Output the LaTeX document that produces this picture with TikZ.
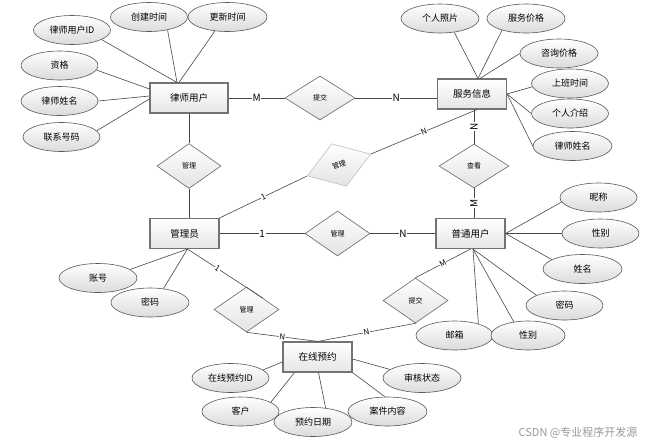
\documentclass[tikz,border=0pt]{standalone}
\usepackage{fontspec}
\setmainfont{Noto Sans CJK SC}
\usetikzlibrary{shapes.geometric,calc}
\begin{document}
\begin{tikzpicture}[x=1pt,y=-1pt,
 ent/.style={draw=black!55, line width=1.1pt, top color=white, bottom color=black!10, minimum width=69pt, minimum height=30pt, inner sep=0pt, font=\fontsize{9.5}{10}\selectfont},
 attr/.style={ellipse, draw=black!65, line width=0.6pt, top color=white, bottom color=black!14, minimum width=77pt, minimum height=29pt, inner sep=0pt, font=\fontsize{9}{10}\selectfont},
 rel/.style={diamond, draw=black!60, line width=0.6pt, top color=white, bottom color=black!11, minimum width=65pt, minimum height=45pt, inner sep=0pt, font=\fontsize{7}{8}\selectfont},
 conn/.style={draw=black!72, line width=0.6pt},
 lbl/.style={fill=white, inner sep=0.6pt, font=\fontsize{10}{11}\selectfont},
 slbl/.style={fill=white, inner sep=0.5pt, sloped, font=\fontsize{8}{9}\selectfont},
]
\fill[white] (0,0) rectangle (648,445);
\useasboundingbox (0,0) rectangle (648,445);

% entities
\node[ent, minimum width=78pt] (lu) at (189,98) {律师用户};
\node[ent] (fw) at (472,94) {服务信息};
\node[ent] (gl) at (184.5,233.5) {管理员};
\node[ent] (pt) at (470.5,233.5) {普通用户};
\node[ent] (yy) at (317.5,357) {在线预约};

% relationships
\node[rel, minimum width=70pt, minimum height=44pt] (tj1) at (320,98) {提交};
\node[rel, minimum width=64pt] (gl1) at (189,166) {管理};
\node[rel, minimum width=70pt, minimum height=44pt] (ck) at (474,166) {查看};
\node[rel] (gl2) at (337.5,233.5) {管理};
\node[rel, draw=black!25, minimum width=67pt, rotate=19] (gl3) at (339,165) {管理};
\node[rel] (gl4) at (246.5,309.5) {管理};
\node[rel] (tj2) at (415.5,300.5) {提交};

% attributes of 律师用户
\node[attr] (a1) at (72,30) {律师用户ID};
\node[attr] (a2) at (149,17) {创建时间};
\node[attr, minimum width=79pt] (a3) at (227.5,17) {更新时间};
\node[attr] (a4) at (59.5,65.5) {资格};
\node[attr] (a5) at (59.5,101) {律师姓名};
\node[attr] (a6) at (61.5,137) {联系号码};

% attributes of 服务信息
\node[attr, minimum width=78pt] (b1) at (440,18.5) {个人照片};
\node[attr, minimum width=78pt] (b2) at (526,18.5) {服务价格};
\node[attr, minimum width=78pt] (b3) at (559,53.5) {咨询价格};
\node[attr] (b4) at (570,83.5) {上班时间};
\node[attr] (b5) at (570,113.5) {个人介绍};
\node[attr, minimum width=79pt] (b6) at (572.5,146) {律师姓名};

% attributes of 管理员
\node[attr, minimum width=78pt] (c1) at (98,278) {账号};
\node[attr, minimum width=78pt] (c2) at (150,302.5) {密码};

% attributes of 普通用户
\node[attr] (d1) at (598.5,197.5) {昵称};
\node[attr] (d2) at (600.5,233.5) {性别};
\node[attr, minimum width=79pt] (d3) at (582.5,269) {姓名};
\node[attr] (d4) at (564.5,305.5) {密码};
\node[attr] (d5) at (454.5,335.5) {邮箱};
\node[attr, minimum width=74pt] (d6) at (528,335.5) {性别};

% attributes of 在线预约
\node[attr] (e1) at (230.5,378) {在线预约ID};
\node[attr] (e2) at (240.5,411.5) {客户};
\node[attr, minimum width=78pt] (e3) at (313,422) {预约日期};
\node[attr, minimum width=79pt] (e4) at (387.5,411.5) {案件内容};
\node[attr, minimum width=78pt] (e5) at (422,378) {审核状态};

\node[font=\fontsize{11}{12}\selectfont, text=black!40] (wm) at (578,433) {CSDN @专业程序开发源};

% connection points
\coordinate (lut) at ($(lu.north)+(-12,0)$);
\coordinate (fwt) at ($(fw.north)+(6,0)$);
\coordinate (glb) at ($(gl.south)+(3,0)$);
\coordinate (ptb) at ($(pt.south)+(2.5,0)$);

% attribute connectors
\draw[conn] (a1.-18) -- (lut);
\draw[conn] (a2.-35) -- (lut);
\draw[conn] (a3.-132) -- ($(lut)+(2,0)$);
\draw[conn] (a4.-7) -- ($(lu.west)+(0,-9)$);
\draw[conn] (a5.east) -- ($(lu.west)+(0,-2)$);
\draw[conn] (a6.10) -- ($(lu.west)+(0,1)$);

\draw[conn] (b1.-44) -- (fwt);
\draw[conn] (b2.-154) -- (fwt);
\draw[conn] (b3.west) -- ($(fwt)+(2,0)$);
\draw[conn] (b4.-175) -- (fw.east);
\draw[conn] (b5.west) -- (fw.east);
\draw[conn] (b6.west) -- (fw.east);

\draw[conn] (c1.15) -- (glb);
\draw[conn] (c2.46) -- (glb);

\draw[conn] (d1.-173) -- (pt.east);
\draw[conn] (d2.west) -- (pt.east);
\draw[conn] (d3.163) -- (pt.east);
\draw[conn] (d4.160) -- (ptb);
\draw[conn] (d5.26) -- (ptb);
\draw[conn] (d6.136) -- (ptb);

\draw[conn] (e1.14) -- ($(yy.west)+(0,5)$);
\draw[conn] (e2.17) -- ($(yy.south west)+(12,0)$);
\draw[conn] (e3.48) -- ($(yy.south)+(1,0)$);
\draw[conn] (e4.100) -- (yy.south east);
\draw[conn] (e5.165) -- ($(yy.east)+(0,2)$);

% relationship connectors
\draw[conn] (lu.east) -- node[lbl]{M} (tj1.west);
\draw[conn] (tj1.east) -- node[lbl]{N} (tj1.east -| fw.west);
\draw[conn] (lu.south) -- (gl1.north);
\draw[conn] (gl1.south) -- (gl1.south |- gl.north);
\draw[conn] (gl.north east) -- node[slbl]{1} (gl3.west);
\draw[conn] (gl3.east) -- node[slbl]{N} ($(fw.south)+(5,0)$);
\draw[conn] (ck.north |- fw.south) -- node[lbl, rotate=90]{N} (ck.north);
\draw[conn] (ck.south) -- node[lbl, rotate=90]{M} (ck.south |- pt.north);
\draw[conn] (gl.east) -- node[lbl]{1} (gl2.west);
\draw[conn] (gl2.east) -- node[lbl]{N} (pt.west);
\draw[conn] (glb) -- node[slbl, pos=0.4]{1} (gl4.north east);
\draw[conn] (gl4.south) -- node[slbl]{N} ($(yy.north)+(0.5,0)$);
\draw[conn] (pt.south) -- node[slbl]{M} (tj2.north);
\draw[conn] (tj2.south) -- node[slbl]{N} (yy.north);
\end{tikzpicture}
\end{document}
